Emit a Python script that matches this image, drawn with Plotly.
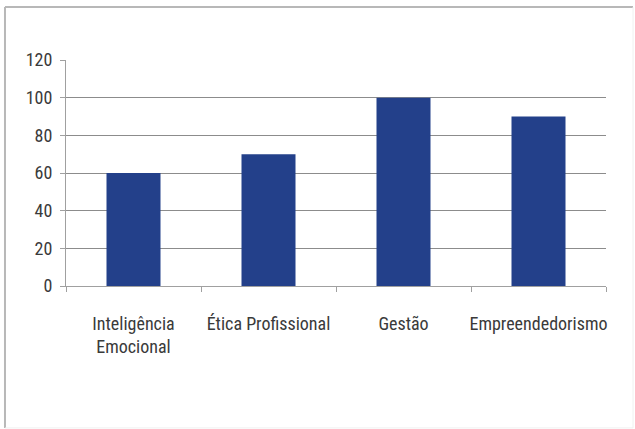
import plotly.graph_objects as go

categories = ["Inteligência<br>Emocional", "Ética Profissional", "Gestão", "Empreendedorismo"]
values = [60, 70, 100, 90]
y_ticks = [0, 20, 40, 60, 80, 100, 120]

FONT = "Liberation Sans Narrow, Roboto Condensed, Arial Narrow, Roboto, sans-serif"

fig = go.Figure(go.Bar(x=categories, y=values, marker=dict(color="#23408A", line=dict(width=0)), width=0.4))

X0, X1, Y0, Y1 = -0.113, 1.05, -0.628, 1.234
frame = [
    dict(x0=X0, x1=X1, y0=Y1, y1=Y1, color="#B8B8B8", w=2),   # top
    dict(x0=X0, x1=X0, y0=Y0, y1=Y1, color="#B8B8B8", w=2),   # left
    dict(x0=X1, x1=X1, y0=Y0, y1=Y1, color="#F0F0F0", w=1),   # right
    dict(x0=X0, x1=X1, y0=Y0, y1=Y0, color="#F0F0F0", w=1),   # bottom
]
shapes = [dict(type="line", xref="paper", yref="paper", x0=f["x0"], x1=f["x1"], y0=f["y0"], y1=f["y1"],
               line=dict(color=f["color"], width=f["w"]), layer="below") for f in frame]

fig.update_layout(
    width=635, height=429,
    margin=dict(l=66, r=29, t=60, b=143, autoexpand=False),
    paper_bgcolor="white", plot_bgcolor="white",
    showlegend=False,
    font=dict(family=FONT, size=18, color="#3A3A3A"),
    shapes=shapes,
)
fig.update_yaxes(range=[0, 120], tickvals=y_ticks, showgrid=True, gridcolor="#8C8C8C", gridwidth=1,
                 showline=True, linecolor="#A0A0A0", linewidth=1, ticks="outside", ticklen=5,
                 tickcolor="#A0A0A0", zeroline=False, ticklabelstandoff=4, automargin=False)
fig.update_xaxes(showline=True, linecolor="#A0A0A0", linewidth=1, ticks="outside", tickson="boundaries",
                 ticklen=5, tickcolor="#A0A0A0", showgrid=False, ticklabelstandoff=21, tickangle=0,
                 automargin=False)

fig.write_html("out.html", config={"displayModeBar": False},
               post_script="document.body.style.margin='0';document.body.style.padding='0';")
